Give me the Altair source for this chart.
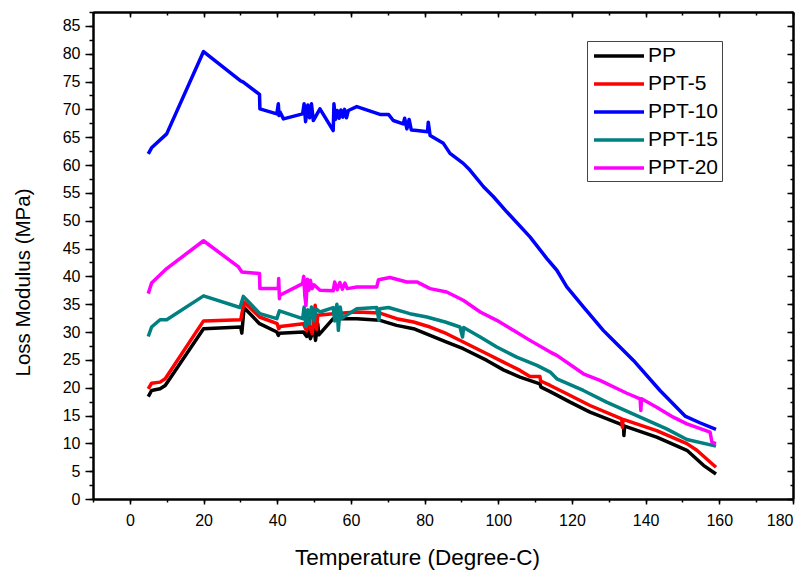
import altair as alt
import pandas as pd

FONT = "Liberation Sans"

series_names = ["PP", "PPT-5", "PPT-10", "PPT-15", "PPT-20"]
series_colors = ["#000000", "#FF0000", "#0000FF", "#008080", "#FF00FF"]

pp_t = [5, 5.9, 8.2, 9.6, 20, 30.1, 30.4, 31, 35.2, 39.9, 40.3, 40.6, 47.1, 48, 48.3, 49, 50, 50.4, 51, 51.3,
        55.2, 61.6, 67.9, 72.4, 77, 81.5, 86, 90.5, 96.9, 101.4, 105.9, 111.3, 111.6, 114.1, 119.5, 124.9, 133,
        134, 134.1, 134.3, 143, 151.2, 155.7, 159.1]
pp_v = [18.4, 19.5, 19.8, 20.4, 30.6, 30.9, 29.8, 34.4, 31.5, 30.0, 29.4, 29.8, 30.0, 29.2, 31, 28.8, 30.5, 28.5,
        31.5, 29.5, 32.4, 32.4, 32.1, 31.2, 30.6, 29.4, 28.2, 27.0, 24.9, 23.2, 21.9, 20.7, 20.1, 19.3, 17.4, 15.6,
        13.5, 13.2, 11.4, 13.1, 11.1, 8.75, 6.05, 4.5]

ppt5_t = [5, 5.9, 8.2, 9.6, 20, 30.1, 31, 35.2, 40, 40.4, 40.8, 47.1, 48, 48.3, 49.5, 50.3, 50.7, 51, 55.2, 61.6,
          67.9, 72.4, 77, 81.5, 86, 90.5, 96.9, 101.4, 105.9, 108.6, 111.3, 111.5, 114.1, 118.6, 124.9, 133.5,
          133.7, 133.9, 143, 151.2, 153.9, 159.1]
ppt5_v = [19.8, 20.8, 21.0, 21.6, 32.0, 32.2, 35.4, 32.7, 31.5, 30.6, 31.0, 31.5, 30.2, 32, 29.7, 34.8, 30.5, 33,
          33.3, 33.6, 33.4, 32.4, 31.8, 30.9, 29.7, 28.2, 26.1, 24.6, 23.1, 22.0, 22.0, 21.2, 20.4, 18.9, 16.8,
          14.4, 12.9, 14.3, 12.3, 9.95, 8.75, 5.7]

ppt10_t = [5, 5.9, 10, 20, 29.9, 30.8, 35.2, 35.3, 39.9, 40.3, 40.5, 40.8, 41.7, 46.9, 47.3, 47.7, 48.3, 48.8,
           49.3, 49.8, 51.6, 55.2, 55.4, 55.8, 56.3, 56.8, 57.3, 57.8, 58.3, 58.8, 59.3, 61.6, 67.9, 70.2, 71.5,
           74.2, 74.6, 75.2, 75.8, 76.4, 77.9, 80.8, 81.0, 81.5, 85.1, 86.9, 90.5, 92.3, 96, 98.7, 102.3, 108.6,
           113.2, 115.9, 118.6, 123.1, 128.5, 130.3, 136.7, 143.9, 150.7, 154.7, 159.1]
ppt10_v = [62.0, 63.1, 65.6, 80.4, 75.2, 74.9, 72.7, 70.1, 69.2, 71.0, 68.9, 69.5, 68.3, 69.2, 71.0, 67.8, 70.8,
           68.5, 71.0, 68.0, 70.1, 66.2, 71.0, 68.2, 69.8, 68.4, 69.9, 68.6, 70.0, 68.5, 69.8, 70.5, 69.1, 69.1,
           68.0, 67.4, 68.4, 66.5, 68.2, 66.3, 66.2, 66.0, 67.7, 65.3, 63.9, 62.1, 60.3, 59.1, 56.1, 54.3, 51.6,
           47.1, 43.2, 41.1, 38.1, 34.5, 30.3, 29.1, 24.9, 19.5, 14.9, 13.7, 12.5]

ppt15_t = [5, 5.9, 8.2, 10, 20, 29.9, 30.8, 35.3, 39.9, 40.6, 46.9, 47.3, 47.8, 48.3, 48.8, 49.3, 50, 50.5, 51.6,
           55.2, 55.6, 56.2, 56.6, 57.1, 57.6, 61.6, 67, 67.6, 67.8, 70.2, 76, 80.6, 85.6, 89.6, 90.3, 90.6, 95.1,
           99.6, 105, 110.5, 114.1, 115.9, 123.1, 129.4, 138.5, 145.7, 151.2, 159.1]
ppt15_v = [29.2, 30.9, 32.2, 32.2, 36.5, 34.4, 36.4, 33.3, 32.4, 33.8, 32.4, 34.5, 31, 34, 31.5, 34.5, 32, 34.2,
           33.6, 34.4, 32, 35, 30.3, 34.5, 32.5, 34.2, 34.4, 32.1, 34.2, 34.4, 33.3, 32.7, 31.8, 30.9, 29.1, 30.8,
           29.1, 27.3, 25.5, 24.0, 22.8, 21.6, 19.5, 17.4, 14.7, 12.6, 10.7, 9.5]

ppt20_t = [5, 5.9, 10, 20, 29.5, 30.4, 35.2, 35.3, 40.3, 40.4, 40.6, 40.7, 46.9, 47.2, 47.5, 47.8, 48.2, 48.6, 49,
           49.5, 50, 51.6, 55.2, 55.6, 56.3, 57, 57.7, 58.4, 59, 61.6, 67, 67.5, 70.6, 75.2, 77.9, 81.5, 86, 90.5,
           95.1, 99.6, 104.1, 108.6, 114.1, 115.9, 123.1, 127.6, 134.9, 138.5, 138.7, 138.9, 143, 147.5, 151.2,
           157.5, 158, 159.1]
ppt20_v = [36.9, 38.8, 41.4, 46.4, 41.7, 40.8, 40.5, 37.8, 37.8, 39.6, 36.0, 36.6, 38.7, 40.0, 36.5, 34.8, 39.5,
           37.5, 39.3, 37.8, 38.5, 37.5, 37.4, 39.0, 37.6, 38.9, 37.7, 38.8, 37.8, 38.1, 38.1, 39.4, 39.8, 39.0,
           39.0, 37.8, 37.2, 35.7, 33.6, 32.1, 30.3, 28.5, 26.4, 25.8, 22.5, 21.3, 19.0, 18.0, 15.9, 18.0, 16.5,
           14.7, 13.5, 12.0, 10.2, 9.95]

x_major = list(range(0, 181, 20))
x_minor = list(range(-10, 181, 10))
y_major = list(range(0, 86, 5))
y_minor = [k * 2.5 for k in range(0, 36)]

series_data = [(pp_t, pp_v), (ppt5_t, ppt5_v), (ppt10_t, ppt10_v), (ppt15_t, ppt15_v), (ppt20_t, ppt20_v)]
rows = []
for name, (ts, vs) in zip(series_names, series_data):
    assert len(ts) == len(vs), name
    for i, (t, v) in enumerate(zip(ts, vs)):
        rows.append({"series": name, "T": t, "V": v, "idx": i})
df = pd.DataFrame(rows)

x_scale = alt.Scale(domain=[-10, 180], nice=False, zero=False)
y_scale = alt.Scale(domain=[0, 87.5], nice=False, zero=False)

common = dict(grid=False, domainColor="black", domainWidth=2, tickColor="black", tickWidth=1.5,
              labelColor="black", labelFont=FONT, titleFont=FONT, titleColor="black")

lines = alt.Chart(df).mark_line(strokeWidth=3.5, strokeJoin="round").encode(
    x=alt.X("T:Q", scale=x_scale,
            axis=alt.Axis(orient="bottom", values=x_major, tickSize=5, labelFontSize=16, labelPadding=8,
                          title="Temperature (Degree-C)", titleFontSize=22.5, titleFontWeight="normal",
                          titleX=324, titleY=65, titleAlign="center", titleBaseline="alphabetic", **common)),
    y=alt.Y("V:Q", scale=y_scale,
            axis=alt.Axis(orient="left", values=y_major, tickSize=8, labelFontSize=16, labelPadding=5,
                          title="Loss Modulus (MPa)", titleFontSize=20.5, titleFontWeight="normal",
                          titleAngle=270, titleX=-70, titleY=270, titleAlign="center",
                          titleBaseline="middle", **common)),
    color=alt.Color("series:N", scale=alt.Scale(domain=series_names, range=series_colors), sort=series_names,
                    legend=alt.Legend(title=None, orient="none", legendX=494, legendY=29,
                                      symbolType="M-2.5,0H2.5", symbolStrokeWidth=3.5, symbolSize=400,
                                      symbolOffset=17, symbolFillColor="transparent",
                                      labelFontSize=21, labelFont=FONT, labelColor="black", labelOffset=17,
                                      padding=3, rowPadding=6, strokeColor="#444444", fillColor="white")),
    order=alt.Order("idx:Q"),
)


def ghost(xaxis, yaxis):
    return alt.Chart(df).mark_point(opacity=0).encode(
        x=alt.X("T:Q", scale=x_scale, axis=xaxis),
        y=alt.Y("V:Q", scale=y_scale, axis=yaxis),
    )


ghost_common = dict(grid=False, labels=False, title="", domainColor="black", domainWidth=2,
                    tickColor="black", tickWidth=1.5)

minor = ghost(alt.Axis(orient="bottom", values=x_minor, tickSize=3, **ghost_common),
              alt.Axis(orient="left", values=y_minor, tickSize=4, **ghost_common))
top_right = ghost(alt.Axis(orient="top", values=x_major, tickSize={"expr": "-5"}, **ghost_common),
                  alt.Axis(orient="right", values=y_major, tickSize={"expr": "-6"}, **ghost_common))
top_right_minor = ghost(alt.Axis(orient="top", values=x_minor, tickSize={"expr": "-3"}, **ghost_common),
                        alt.Axis(orient="right", values=y_minor, tickSize={"expr": "-3"}, **ghost_common))

chart = alt.layer(minor, top_right, top_right_minor, lines).resolve_axis(
    x="independent", y="independent"
).properties(
    width=700, height=487,
    autosize=alt.AutoSizeParams(type="none"),
    padding={"left": 93, "top": 12, "right": 18, "bottom": 72},
    background="white",
).configure_view(stroke=None)

chart.save("out.html", embed_options={"renderer": "svg", "actions": False})
